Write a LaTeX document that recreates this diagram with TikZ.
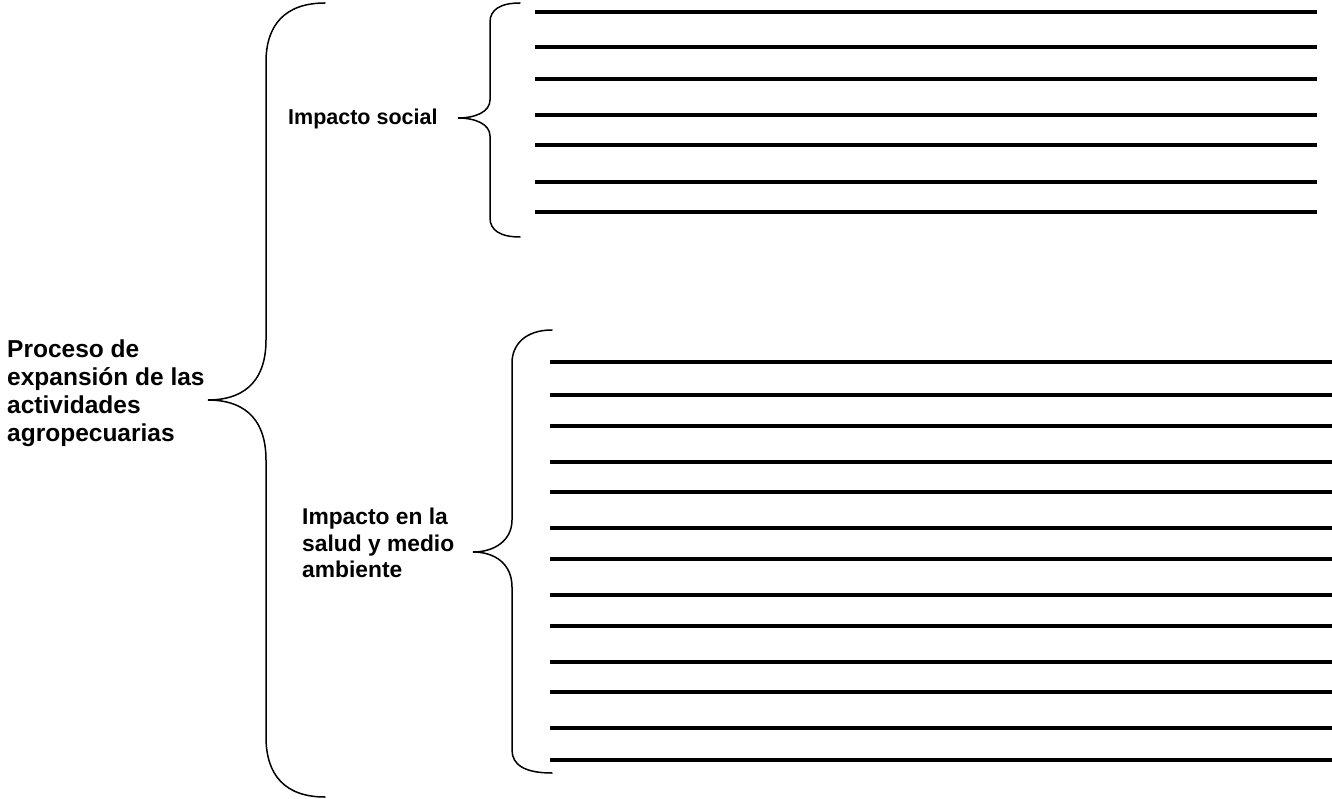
\documentclass[tikz,border=0pt]{standalone}
\usepackage{fontspec}
\setmainfont{Liberation Sans}
\usepackage{tikz}
\tikzstyle{titulo} = [font=\bfseries\fontsize{24.5}{28}\selectfont, align=left, inner sep=0pt, anchor=north west]
\tikzstyle{rama} = [font=\bfseries\fontsize{21.5}{26}\selectfont, align=left, inner sep=0pt, anchor=north west]
\tikzstyle{llave} = [line width=1.5pt, line cap=round]
\tikzstyle{renglon} = [line width=3.2pt]

\begin{document}
\begin{tikzpicture}[x=1pt, y=-1pt]

        \useasboundingbox (0,0) rectangle (1332,799);

        \node (proceso) [titulo] at (7,340) {Proceso de\\expansión de las\\actividades\\agropecuarias};
        \node (social) [rama] at (288,109) {Impacto social};
        \node (salud) [rama, font=\bfseries\fontsize{22.8}{26.5}\selectfont] at (302,508) {Impacto en la\\salud y medio\\ambiente};

        %% llave grande

        \draw[llave] (325,3) .. controls (285,3) and (266,25) .. (266,62) -- (266,340)
                .. controls (266,385) and (240,400) .. (208,400)
                .. controls (240,400) and (266,415) .. (266,460) -- (266,737)
                .. controls (266,775) and (285,797) .. (325,797);

        %% impacto social

        \draw[llave] (520,3) .. controls (500,3) and (490,10) .. (490,22) -- (490,100)
                .. controls (490,112) and (475,118) .. (458,118)
                .. controls (475,118) and (490,124) .. (490,136) -- (490,218)
                .. controls (490,230) and (500,237) .. (520,237);

        \foreach \y in {12,47,79,115,145,182,212}
                \draw[renglon] (535,\y) -- (1317,\y);

        %% salud y medio ambiente

        \draw[llave] (552,330) .. controls (525,330) and (512,345) .. (512,363) -- (512,520)
                .. controls (512,540) and (495,552) .. (473,552)
                .. controls (495,552) and (512,564) .. (512,587) -- (512,750)
                .. controls (512,765) and (525,773) .. (552,773);

        \foreach \y in {362,395,426,462,492,528,559,595,626,662,692,728,760}
                \draw[renglon] (550,\y) -- (1332,\y);

    \end{tikzpicture}
\end{document}
